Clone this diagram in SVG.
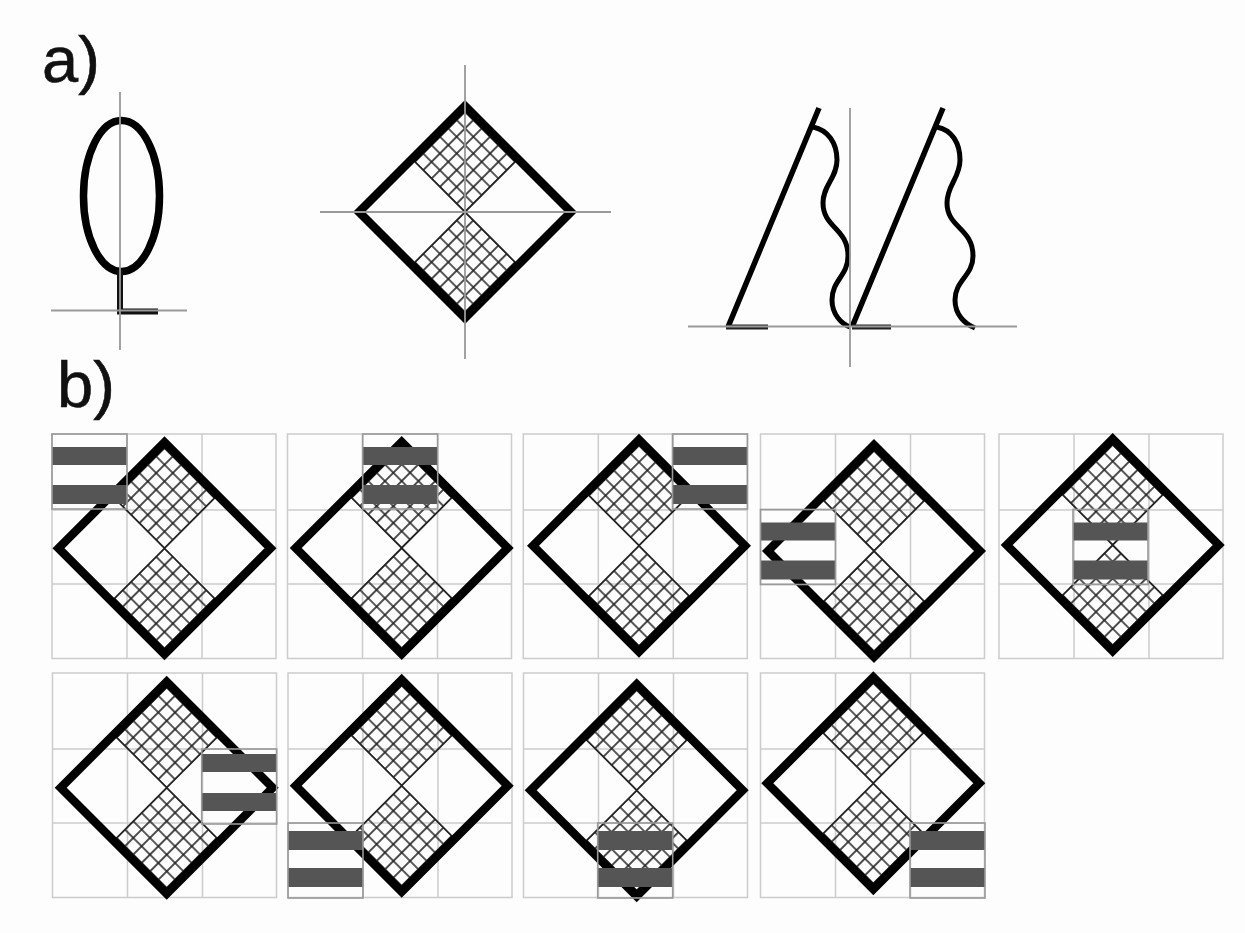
<svg xmlns="http://www.w3.org/2000/svg" width="1245" height="933" viewBox="0 0 1245 933">
<style>
.lbl{font-family:"Liberation Sans",Arial,sans-serif;font-size:65px;fill:#111;stroke:#111;stroke-width:.6}
.axis{stroke:#999;stroke-width:1.8;fill:none}
.gridl{stroke:#ccc;stroke-width:1.5;fill:none}
.thick{stroke:#000;stroke-width:5.500;fill:none}
.wave{stroke:#000;stroke-width:5;fill:none}
.dia{stroke:#000;stroke-width:8.500;fill:none;stroke-linejoin:miter}
.hatchbox{fill:url(#hatch);stroke:#222;stroke-width:1.600}
.stripe{fill:#555}
.boxo{fill:none;stroke:#999;stroke-width:1.600}
</style>
<defs>
<pattern id="hatch" patternUnits="userSpaceOnUse" width="11.830" height="11.830">
<path d="M0 0H11.830M0 11.830H11.830M0 0V11.830M11.830 0V11.830" stroke="#222" stroke-width="1.600" fill="none"/>
</pattern>
<g id="diamond">
<g transform="rotate(45)">
<rect class="hatchbox" x="-70.980" y="-70.980" width="70.980" height="70.980"/>
<rect class="hatchbox" x="0" y="0" width="70.980" height="70.980"/>
</g>
<path class="dia" d="M0 -106L106 0L0 106L-106 0Z"/>
</g>
<g id="cell">
<path class="gridl" d="M0 0H224V224.500H0ZM75 0V224.500M150 0V224.500M0 76H224M0 150H224"/>
</g>
<g id="slat-a">
<rect class="stripe" x="0" y="13" width="75" height="18"/>
<rect class="stripe" x="0" y="51" width="75" height="19"/>
<rect class="boxo" x="0" y="0" width="75" height="75"/>
</g>
<g id="slat-b">
<rect class="stripe" x="0" y="5" width="75" height="18"/>
<rect class="stripe" x="0" y="44" width="75" height="18"/>
<rect class="boxo" x="0" y="0" width="75" height="75"/>
</g>
<g id="slat-c">
<rect class="stripe" x="0" y="8" width="75" height="19"/>
<rect class="stripe" x="0" y="45" width="75" height="19"/>
<rect class="boxo" x="0" y="0" width="75" height="75"/>
</g>
</defs>
<rect width="1245" height="933" fill="#fdfdfd"/>
<text class="lbl" x="42" y="82">a)</text>
<text class="lbl" x="57" y="407">b)</text>
<g id="a-ellipse">
<ellipse cx="121.500" cy="196" rx="38" ry="75.500" fill="none" stroke="#000" stroke-width="7.500"/>
<path d="M120 270V311.500H158" fill="none" stroke="#111" stroke-width="6"/>
<path class="axis" d="M120 92V350M51 310.500H187"/>
</g>
<g id="a-diamond">
<use href="#diamond" transform="translate(465 212)"/>
<path class="axis" d="M465 65V359M320 212H611"/>
</g>
<g id="a-sail">
<path class="thick" d="M819 108L728 327M943 108L852 327"/>
<path d="M726 327H768M852 327H891" stroke="#222" stroke-width="5" fill="none"/>
<path class="wave" d="M813 127C828 130 837 143 837 160C837 178 823 185 823 203C823 228 848 228 848 256C848 276 832 280 832 300C832 315 842 324 850 327"/>
<path class="wave" d="M937 127C952 130 960 143 960 160C960 178 947 185 947 203C947 228 973 228 973 256C973 276 955 280 955 300C955 315 965 324 975 328"/>
<path class="axis" d="M850 108V367M688 326.500H1017"/>
</g>
<g id="panel-1"><use href="#cell" x="52" y="434"/><use href="#diamond" x="164.500" y="548.300"/><use href="#slat-a" x="52" y="434"/></g>
<g id="panel-2"><use href="#cell" x="287.500" y="434"/><use href="#diamond" x="401.700" y="548"/><use href="#slat-a" x="362.700" y="434"/></g>
<g id="panel-3"><use href="#cell" x="523.300" y="434"/><use href="#diamond" x="639" y="545.700"/><use href="#slat-a" x="672.500" y="434"/></g>
<g id="panel-4"><use href="#cell" x="760.500" y="434"/><use href="#diamond" x="874" y="551"/><use href="#slat-a" x="760.500" y="509.500"/></g>
<g id="panel-5"><use href="#cell" x="999" y="434"/><use href="#diamond" x="1112.700" y="545"/><use href="#slat-a" x="1073" y="509.500"/></g>
<g id="panel-6"><use href="#cell" x="52.500" y="673"/><use href="#diamond" x="166.700" y="787.700"/><use href="#slat-b" x="201.700" y="749"/></g>
<g id="panel-7"><use href="#cell" x="288" y="673"/><use href="#diamond" x="401.700" y="785.700"/><use href="#slat-c" x="288" y="823"/></g>
<g id="panel-8"><use href="#cell" x="523.500" y="673"/><use href="#diamond" x="636.700" y="790.300"/><use href="#slat-c" x="597.700" y="823"/></g>
<g id="panel-9"><use href="#cell" x="760.500" y="673"/><use href="#diamond" x="873.300" y="783.300"/><use href="#slat-c" x="910" y="823"/></g>
</svg>
